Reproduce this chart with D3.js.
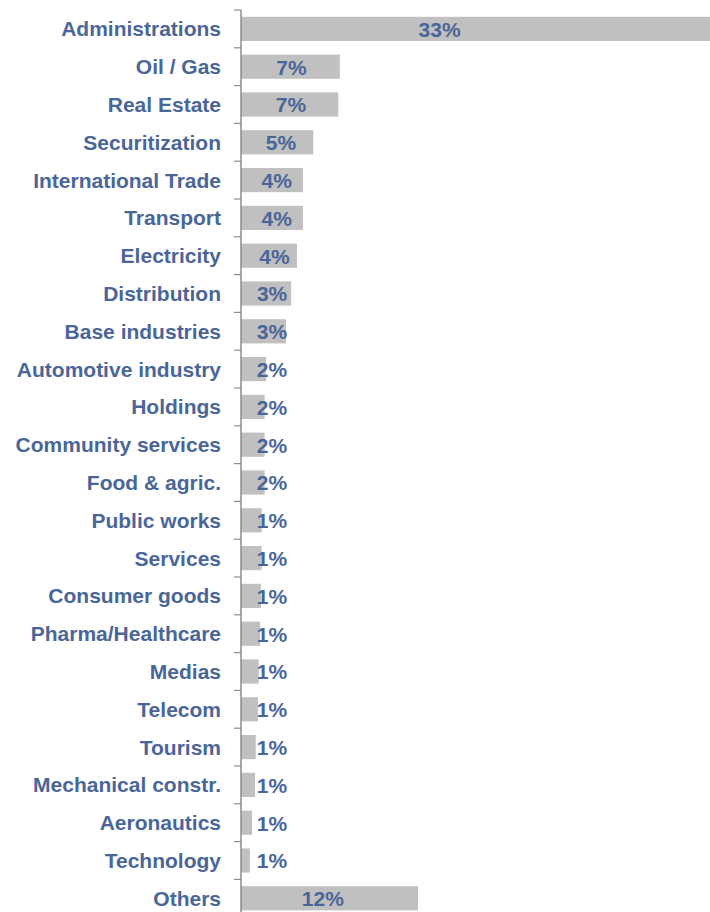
<!DOCTYPE html>
<html>
<head>
  <title>Sector breakdown</title>
  <script src="https://d3js.org/d3.v7.min.js"></script>
  <style>
    body { margin: 0; background: #fff; }
    text { font-family: "Liberation Sans", Arial, sans-serif; font-weight: bold; }
  </style>
</head>
<body>
  <script>
    // sectors, top to bottom
    const sectors = [
      "Administrations", "Oil / Gas", "Real Estate", "Securitization",
      "International Trade", "Transport", "Electricity", "Distribution",
      "Base industries", "Automotive industry", "Holdings", "Community services",
      "Food & agric.", "Public works", "Services", "Consumer goods",
      "Pharma/Healthcare", "Medias", "Telecom", "Tourism",
      "Mechanical constr.", "Aeronautics", "Technology", "Others"
    ];
    // share in %
    const shares = [
      33.0, 6.7, 6.6, 4.9,
      4.2, 4.2, 3.8, 3.4,
      3.05, 1.7, 1.6, 1.6,
      1.6, 1.4, 1.4, 1.35,
      1.3, 1.2, 1.15, 1.0,
      0.95, 0.75, 0.6, 12.0
    ];

    const width = 710, height = 912;
    const textColor = "#4a6699";
    const barColor = "#c0c0c0";
    const axisX = 241;

    const data = sectors.map((s, i) => ({ name: s, value: shares[i] }));

    const svg = d3.select("body").append("svg")
      .attr("width", width)
      .attr("height", height);

    const y = d3.scaleBand()
      .domain(sectors)
      .range([10, 10 + sectors.length * 37.8])
      .paddingInner(0.36)
      .paddingOuter(0.18);

    const x = d3.scaleLinear()
      .domain([0, 33])
      .range([axisX, axisX + 33 * 14.75]);

    // bars
    svg.selectAll(".bar")
      .data(data)
      .enter()
      .append("rect")
      .attr("class", "bar")
      .attr("x", x(0))
      .attr("y", d => y(d.name))
      .attr("width", d => x(d.value) - x(0))
      .attr("height", y.bandwidth())
      .attr("fill", barColor);

    // axis line + ticks at band boundaries
    const half = (y.step() - y.bandwidth()) / 2;
    svg.append("line")
      .attr("x1", axisX).attr("x2", axisX)
      .attr("y1", y.range()[0]).attr("y2", height)
      .attr("stroke", "#8c8c8c")
      .attr("stroke-width", 1.5);

    const bounds = sectors.map(s => y(s) - half);
    bounds.push(y(sectors[sectors.length - 1]) + y.bandwidth() + half);
    svg.selectAll(".tick")
      .data(bounds)
      .enter()
      .append("line")
      .attr("class", "tick")
      .attr("x1", axisX - 7).attr("x2", axisX)
      .attr("y1", d => d).attr("y2", d => d)
      .attr("stroke", "#8c8c8c")
      .attr("stroke-width", 1.2);

    // category labels
    svg.selectAll(".cat")
      .data(data)
      .enter()
      .append("text")
      .attr("class", "cat")
      .attr("x", 221)
      .attr("y", d => y(d.name) + y.bandwidth() / 2)
      .attr("dy", "0.36em")
      .attr("text-anchor", "end")
      .attr("font-size", "21px")
      .attr("fill", textColor)
      .text(d => d.name);

    // value labels: near the base for short bars, drifting right on long ones
    svg.selectAll(".val")
      .data(data)
      .enter()
      .append("text")
      .attr("class", "val")
      .attr("x", d => {
        const len = Math.min(x(d.value), width) - x(0);
        return x(0) + 31 + Math.max(0, 0.4 * (len - 50));
      })
      .attr("y", d => y(d.name) + y.bandwidth() / 2)
      .attr("dy", "0.38em")
      .attr("text-anchor", "middle")
      .attr("font-size", "21px")
      .attr("fill", textColor)
      .text(d => Math.round(d.value) + "%");
  </script>
</body>
</html>
